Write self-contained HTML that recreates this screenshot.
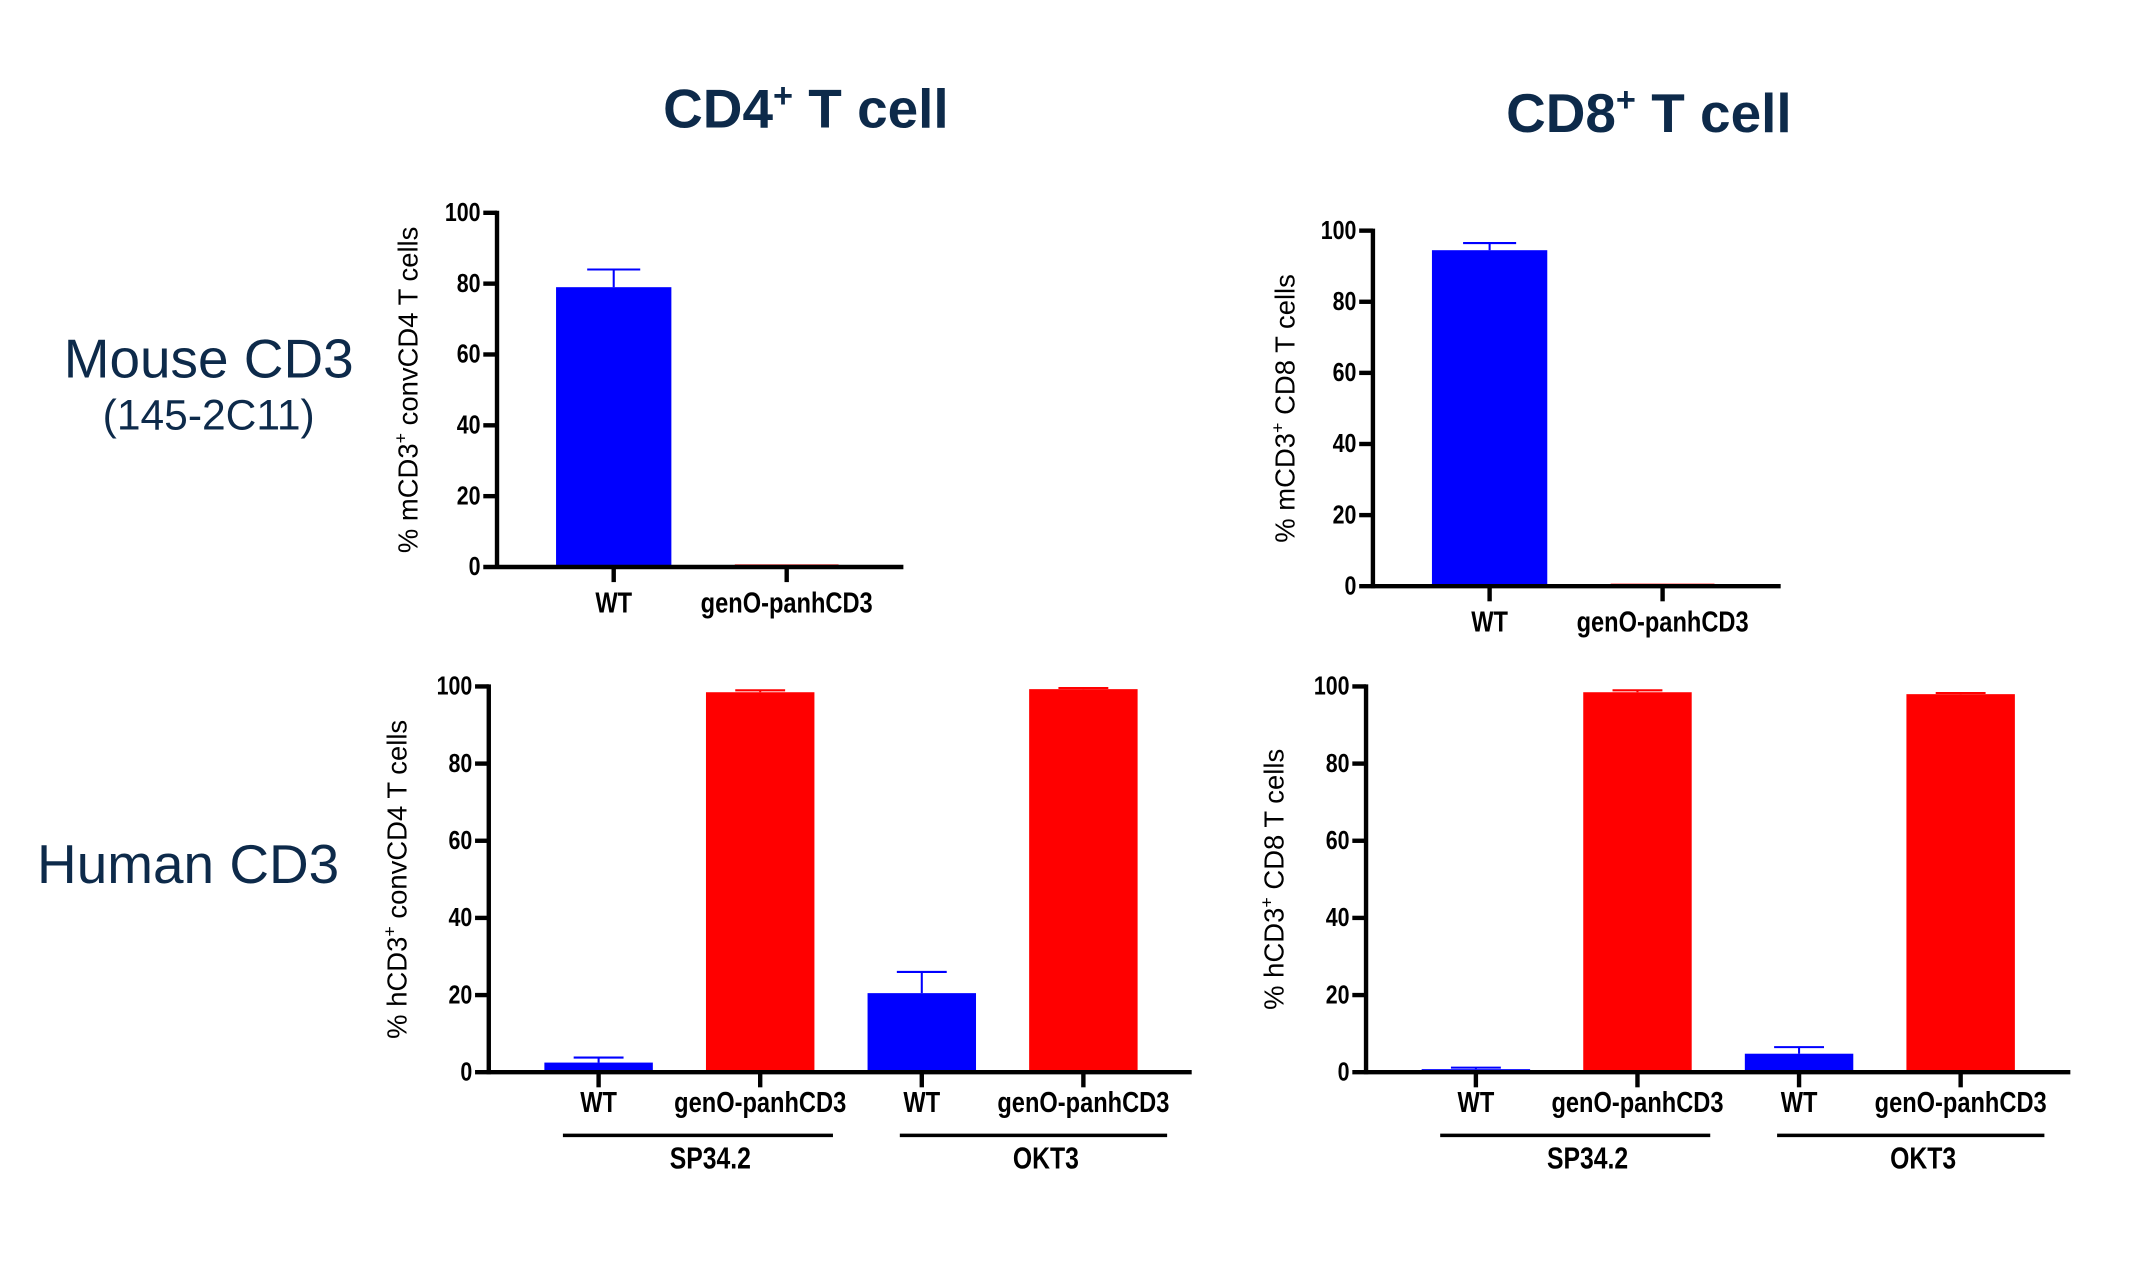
<!DOCTYPE html>
<html><head><meta charset="utf-8"><style>
html,body{margin:0;padding:0;background:#fff;}
svg{display:block;}
.tick{font-family:"Liberation Sans Narrow","Liberation Sans",sans-serif;font-weight:bold;font-size:18px;fill:#000;}
.ylab{font-family:"Liberation Sans",sans-serif;font-size:20px;fill:#000;}
.title{font-family:"Liberation Sans",sans-serif;font-weight:bold;font-size:40px;fill:#0d2a4a;}
.row{font-family:"Liberation Sans",sans-serif;font-size:40px;fill:#0d2a4a;}
</style></head><body>
<svg id="fig" width="2150" height="1275" viewBox="0 0 1566 928.7" xmlns="http://www.w3.org/2000/svg">
<text class="title" x="587" y="93" text-anchor="middle">CD4<tspan font-size="25" dy="-15">+</tspan><tspan dy="15"> T cell</tspan></text>
<text class="title" x="1201" y="96" text-anchor="middle">CD8<tspan font-size="25" dy="-15">+</tspan><tspan dy="15"> T cell</tspan></text>
<text class="row" x="152" y="275" text-anchor="middle" style="font-size:40px">Mouse CD3</text>
<text class="row" x="152" y="313" text-anchor="middle" style="font-size:31px">(145-2C11)</text>
<text class="row" x="137" y="643" text-anchor="middle" style="font-size:40px">Human CD3</text>
</svg>
<script>
const catsMouse = ["WT","genO-panhCD3"];
const catsHuman = ["WT","genO-panhCD3","WT","genO-panhCD3"];
const groupsHuman = ["SP34.2","OKT3"];
const yTicks = [0,20,40,60,80,100];
const valsA = [79, 0.3];
const errA = [84, 0.3];
const valsB = [94.5, 0.3];
const errB = [96.5, 0.3];
const valsC = [2.5, 98.5, 20.5, 99.3];
const errC = [3.8, 99.0, 26.0, 99.6];
const valsD = [0.8, 98.5, 4.8, 98.0];
const errD = [1.2, 99.0, 6.5, 98.3];
const colorsMouse = ["#0000ff","#ff0000"];
const colorsHuman = ["#0000ff","#ff0000","#0000ff","#ff0000"];

const NS="http://www.w3.org/2000/svg";
const svg=document.getElementById('fig');
function mk(tag,attrs,parent){const e=document.createElementNS(NS,tag);for(const k in attrs)e.setAttribute(k,attrs[k]);(parent||svg).appendChild(e);return e;}
function ntext(parent,x,y,anchor,str,size){
  const t=mk('text',{transform:`translate(${x},${y}) scale(0.82,1)`,'text-anchor':anchor,class:'tick',style:'font-size:'+size+'px'},parent);
  t.textContent=str;
  return t;
}

function panel(cfg){
  const g=mk('g',{});
  
  
  const y=v=>cfg.y0-(cfg.y0-cfg.y100)*v/100;
  const x=i=>cfg.xFirst+i*cfg.step;
  cfg.vals.forEach((v,i)=>{
    const r=mk('rect',{x:x(i)-cfg.bw/2,y:y(v),width:cfg.bw,height:y(0)-y(v),fill:cfg.colors[i]},g);
    
    
    const e=cfg.err[i];
    if(e>v+0.05){
      const eg=mk('g',{stroke:cfg.colors[i],'stroke-width':1.5},g);
      
      
      mk('line',{x1:x(i),x2:x(i),y1:y(v),y2:y(e)},eg);
      mk('line',{x1:x(i)-cfg.bw*0.23,x2:x(i)+cfg.bw*0.23,y1:y(e),y2:y(e)},eg);
    } else {
      mk('line',{x1:x(i)-cfg.bw*0.45,x2:x(i)+cfg.bw*0.45,y1:y(v)-0.5,y2:y(v)-0.5,stroke:cfg.colors[i],'stroke-width':1.2},g);
    }
  });
  const ax=mk('g',{stroke:'#000','stroke-width':3.2},g);
  
  
  mk('line',{x1:cfg.ax,x2:cfg.ax,y1:y(100)-1.5,y2:y(0)+1.5},ax);
  mk('line',{x1:cfg.ax-10,x2:cfg.xend,y1:y(0),y2:y(0)},ax);
  yTicks.forEach(t=>{
    if(t>0) mk('line',{x1:cfg.ax-10,x2:cfg.ax,y1:y(t),y2:y(t)},ax);
    const tl=ntext(g,cfg.ax-12,y(t)+6,'end',t,19);
    
    
  });
  cfg.cats.forEach((c,i)=>{
    mk('line',{x1:x(i),x2:x(i),y1:y(0),y2:y(0)+11},ax);
    const tl=ntext(g,x(i),y(0)+cfg.xlOff,'middle',c,21);
    
    
  });
  if(cfg.groups){
    cfg.groups.forEach((gname,k)=>{
      const l=x(2*k)-26+k*10, r=x(2*k+1)+53+k*8;
      mk('line',{x1:l,x2:r,y1:y(0)+46,y2:y(0)+46,stroke:'#000','stroke-width':2.5},g);
      const gl=ntext(g,(l+r)/2+9,y(0)+70,'middle',gname,22);
      
      
    });
  }
  const yl=mk('text',{class:'ylab','text-anchor':'middle',transform:`translate(${cfg.ylx},${(y(0)+y(100))/2}) rotate(-90)`},g);
  
  
  yl.innerHTML=cfg.ylabel[0]+'<tspan font-size="13" dy="-8">+</tspan><tspan dy="8">'+cfg.ylabel[1]+'</tspan>';
}

panel({name:'mouse-cd4',cats:catsMouse,vals:valsA,err:errA,colors:colorsMouse,ax:362,y100:155,y0:413,xend:658,xFirst:447,step:126,bw:84,ylx:304,xlOff:33,ylabel:['% mCD3',' convCD4 T cells']});
panel({name:'mouse-cd8',cats:catsMouse,vals:valsB,err:errB,colors:colorsMouse,ax:1000,y100:168,y0:427,xend:1297,xFirst:1085,step:126,bw:84,ylx:943,xlOff:33,ylabel:['% mCD3',' CD8 T cells']});
panel({name:'human-cd4',cats:catsHuman,vals:valsC,err:errC,colors:colorsHuman,groups:groupsHuman,ax:356,y100:500,y0:781,xend:868,xFirst:436,step:117.7,bw:79,ylx:296,xlOff:29,ylabel:['% hCD3',' convCD4 T cells']});
panel({name:'human-cd8',cats:catsHuman,vals:valsD,err:errD,colors:colorsHuman,groups:groupsHuman,ax:995,y100:500,y0:781,xend:1508,xFirst:1075,step:117.7,bw:79,ylx:935,xlOff:29,ylabel:['% hCD3',' CD8 T cells']});
</script>
</body></html>
